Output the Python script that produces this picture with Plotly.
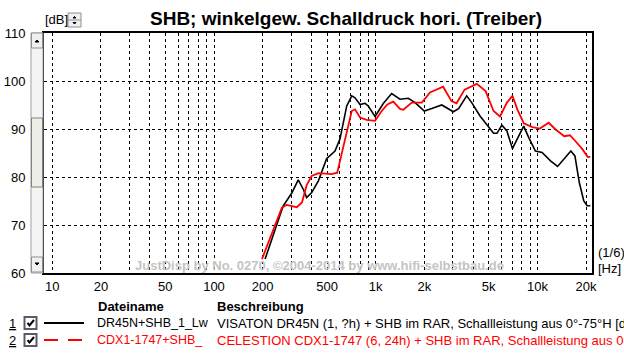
import plotly.graph_objects as go

# ---- data ----
black_freq = [207, 268, 302, 332, 357, 374, 402, 442, 497, 560, 601, 662, 711, 745, 800, 859, 899, 991,
              1114, 1255, 1413, 1591, 1752, 1997, 2222, 2563, 3020, 3254, 3653, 3925, 4416, 4983, 5356,
              5620, 6030, 6476, 7011, 7657, 8228, 8841, 9720, 10690, 12100, 13330, 14650, 16100, 17060,
              18170, 19360, 20300, 21250]
black_db = [62.9, 74.0, 76.6, 79.4, 77.4, 75.7, 76.75, 79.2, 83.8, 85.4, 87.9, 94.8, 96.9, 96.5, 95.1, 95.35,
            94.8, 92.6, 95.3, 97.4, 96.2, 96.4, 95.5, 93.75, 94.25, 95.0, 93.6, 94.25, 96.9, 95.5, 92.7,
            90.3, 89.1, 89.1, 90.8, 89.6, 85.9, 88.5, 90.6, 88.2, 85.4, 85.1, 83.3, 82.2, 83.7, 85.4, 84.4,
            78.8, 75.0, 74.0, 74.0]

red_freq = [198, 263, 281, 325, 350, 374, 402, 442, 534, 578, 601, 645, 711, 745, 800, 879, 991, 1089,
            1180, 1285, 1413, 1482, 1672, 1929, 2166, 2614, 2940, 3160, 3546, 4220, 4780, 5356, 5870,
            6476, 7011, 7514, 8228, 9300, 10360, 11740, 12960, 14650, 15910, 17150, 18970, 20440, 21250]
red_db = [62.9, 73.6, 74.2, 73.7, 74.7, 78.3, 80.2, 80.8, 80.6, 80.9, 83.3, 87.9, 93.75, 94.1, 92.4, 91.9,
          91.7, 93.75, 95.1, 95.7, 94.2, 94.0, 95.5, 95.5, 97.6, 98.8, 95.8, 95.35, 98.2, 99.4, 97.9,
          93.75, 92.6, 95.5, 96.9, 94.1, 91.2, 90.4, 90.1, 91.3, 89.9, 88.5, 88.7, 87.5, 85.8, 84.2, 84.2]

x_tickvals = [10, 20, 50, 100, 200, 500, 1000, 2000, 5000, 10000, 20000]
x_ticktext = ["10", "20", "50", "100", "200", "500", "1k", "2k", "5k", "10k", "20k"]
x_gridvals = [m * 10 ** e for e in range(1, 5) for m in range(1, 10) if m * 10 ** e <= 20000]
y_tickvals = [60, 70, 80, 90, 100, 110]

title_text = "SHB; winkelgew. Schalldruck hori. (Treiber)"
watermark = "JustDisp by No. 0270, ©2004-2014 by www.hifi-selbstbau.de"
legend_names = ["DR45N+SHB_1_Lw", "CDX1-1747+SHB_"]
legend_desc = ["VISATON DR45N (1, ?h) + SHB im RAR, Schallleistung aus 0°-75°H [dB]",
               "CELESTION CDX1-1747 (6, 24h) + SHB im RAR, Schallleistung aus 0°-75°H [dB]"]
colors = ["#000000", "#ff0000"]

# ---- layout geometry (pixels) ----
W, H = 624, 353
L, R, T, B = 44, 592, 33, 273
FONT = "Liberation Sans, Arial, sans-serif"


def px(x):
    return (x - L) / (R - L)


def py(y):
    return (B - y) / (B - T)


def path(pts, close=False):
    s = "M " + " L ".join(f"{px(a):.5f},{py(b):.5f}" for a, b in pts)
    return s + (" Z" if close else "")


fig = go.Figure()
fig.add_trace(go.Scatter(x=black_freq, y=black_db, mode="lines",
                         line=dict(color=colors[0], width=1.6), showlegend=False, hoverinfo="skip"))
fig.add_trace(go.Scatter(x=red_freq, y=red_db, mode="lines",
                         line=dict(color=colors[1], width=1.8), showlegend=False, hoverinfo="skip"))

grid = dict(showgrid=True, gridcolor="black", gridwidth=1, griddash="3px,3px")
fig.update_xaxes(type="log", range=[0.9487, 4.3376], tickmode="array", tickvals=x_tickvals,
                 ticktext=x_ticktext, showline=True, linecolor="black", linewidth=2, mirror=True,
                 ticks="", zeroline=False, automargin=False, tickfont=dict(family=FONT, size=13, color="black"),
                 minor=dict(tickmode="array", tickvals=x_gridvals, ticks="", **grid), **grid)
fig.update_yaxes(range=[60, 110], tickmode="array", tickvals=y_tickvals, showline=True,
                 linecolor="black", linewidth=2, mirror=True, ticks="", zeroline=False, automargin=False,
                 ticklabelstandoff=14, tickfont=dict(family=FONT, size=13, color="black"), **grid)

shapes = []
ann = []

# scrollbar left of the y axis
shapes.append(dict(type="rect", xref="paper", yref="paper", x0=px(31), x1=px(43), y0=py(273), y1=py(33),
                   line=dict(color="#a0a0a0", width=1), fillcolor="#f4f4f4", layer="above"))
shapes.append(dict(type="rect", xref="paper", yref="paper", x0=px(31.5), x1=px(42.5), y0=py(187), y1=py(118),
                   line=dict(color="#808080", width=1), fillcolor="#eeeee8", layer="above"))
for (ya, yb) in [(33, 48), (257, 272)]:
    shapes.append(dict(type="rect", xref="paper", yref="paper", x0=px(31.5), x1=px(42.5), y0=py(yb), y1=py(ya),
                       line=dict(color="#909090", width=1), fillcolor="#f0f0f0", layer="above"))
shapes.append(dict(type="path", xref="paper", yref="paper", path=path([(35, 42), (39, 42), (37, 40)], True),
                   fillcolor="black", line=dict(color="black", width=1), layer="above"))
shapes.append(dict(type="path", xref="paper", yref="paper", path=path([(35, 263), (39, 263), (37, 265)], True),
                   fillcolor="black", line=dict(color="black", width=1), layer="above"))

# small spinner next to [dB]
shapes.append(dict(type="rect", xref="paper", yref="paper", x0=px(68), x1=px(81), y0=py(27), y1=py(13),
                   line=dict(color="#909090", width=1), fillcolor="#f0f0f0", layer="above"))
shapes.append(dict(type="line", xref="paper", yref="paper", x0=px(68), x1=px(81), y0=py(20), y1=py(20),
                   line=dict(color="#909090", width=1)))
shapes.append(dict(type="path", xref="paper", yref="paper", path=path([(73, 18), (76, 18), (74.5, 16.5)], True),
                   fillcolor="black", line=dict(color="black", width=1)))
shapes.append(dict(type="path", xref="paper", yref="paper", path=path([(73, 22.5), (76, 22.5), (74.5, 24)], True),
                   fillcolor="black", line=dict(color="black", width=1)))

# legend rows
row_y = [323, 340]
for i in range(2):
    yy = row_y[i]
    shapes.append(dict(type="rect", xref="paper", yref="paper", x0=px(24.5), x1=px(36.5),
                       y0=py(yy + 6), y1=py(yy - 6), line=dict(color="#5a5a6a", width=2), fillcolor="white"))
    shapes.append(dict(type="path", xref="paper", yref="paper",
                       path=path([(27.5, yy), (29.5, yy + 2.5), (34, yy - 3)]),
                       line=dict(color="black", width=2)))
    shapes.append(dict(type="line", xref="paper", yref="paper", x0=px(44), x1=px(84), y0=py(yy), y1=py(yy),
                       line=dict(color=colors[i], width=2, dash="14px,10px" if i == 1 else "solid")))
    ann.append(dict(text=f"<u>{i + 1}</u>", x=px(7), y=py(yy), xanchor="left"))
    ann.append(dict(text=legend_names[i], x=px(95), y=py(yy), xanchor="left", color=colors[i], size=12.5))
    ann.append(dict(text=legend_desc[i], x=px(215), y=py(yy), xanchor="left", color=colors[i]))

ann.append(dict(text="<b>Dateiname</b>", x=px(96), y=py(306), xanchor="left"))
ann.append(dict(text="<b>Beschreibung</b>", x=px(215), y=py(306), xanchor="left"))
ann.append(dict(text="[dB]", x=px(43), y=py(20), xanchor="left"))
ann.append(dict(text="(1/6)", x=px(596), y=py(252), xanchor="left"))
ann.append(dict(text="[Hz]", x=px(596), y=py(268), xanchor="left"))
ann.append(dict(text="<b>" + title_text + "</b>", x=px(346), y=py(18), xanchor="center", size=19))
ann.append(dict(text="<b>" + watermark + "</b>", x=px(133), y=py(265.5), xanchor="left", color="#c4c4c4"))

annotations = []
for a in ann:
    annotations.append(dict(text=a["text"], x=a["x"], y=a["y"], xref="paper", yref="paper",
                            xanchor=a["xanchor"], yanchor="middle", showarrow=False,
                            font=dict(family=FONT, size=a.get("size", 13), color=a.get("color", "black"))))

fig.update_layout(width=W, height=H, margin=dict(l=L, r=W - R, t=T, b=H - B),
                  paper_bgcolor="white", plot_bgcolor="white", shapes=shapes, annotations=annotations,
                  showlegend=False)

fig.write_html("out.html")
